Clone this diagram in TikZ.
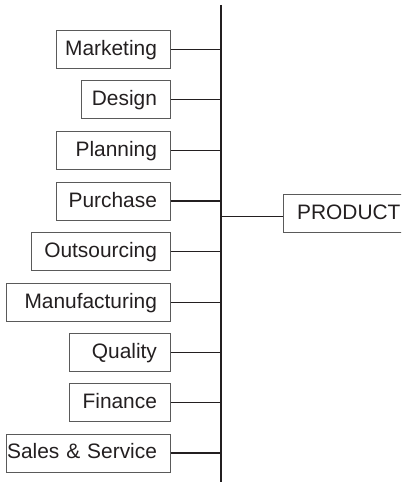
\documentclass[tikz,border=0pt]{standalone}
\usepackage{fontspec}
\setmainfont{Liberation Sans}
\usetikzlibrary{calc}
\definecolor{ink}{HTML}{231F20}
\definecolor{frame}{HTML}{5A5A5A}
\tikzset{
  dept/.style={draw=frame, line width=0.9bp, text=ink, anchor=east, inner xsep=0pt, inner ysep=0pt,
    minimum height=38bp, text height=15bp, text depth=3bp, align=right,
    font=\fontsize{20.9bp}{24bp}\selectfont},
  prodbox/.style={draw=frame, line width=0.9bp, text=ink, anchor=west, inner xsep=0pt, inner ysep=0pt,
    minimum height=38bp, text height=15bp, text depth=3bp,
    font=\fontsize{20.9bp}{24bp}\selectfont},
  link/.style={draw=ink, line width=1.3bp},
  spineline/.style={draw=ink, line width=1.8bp}
}
\begin{document}
\begin{tikzpicture}[x=1bp,y=1bp]
\useasboundingbox (0,0) rectangle (401,482);
\clip (0,0) rectangle (401,482);
\coordinate (stop) at (220.7,477);
\coordinate (sbot) at (220.7,0);
\node[dept, text width=114bp] (m1) at (170.7,432.3) {Marketing\hspace*{13.3bp}};
\node[dept, text width=88.4bp] (m2) at (170.7,382.3) {Design\hspace*{13.3bp}};
\node[dept, text width=114bp] (m3) at (170.7,331.5) {Planning\hspace*{13.3bp}};
\node[dept, text width=114bp] (m4) at (170.7,280.9) {Purchase\hspace*{13.3bp}};
\node[dept, text width=139bp] (m5) at (170.7,230.8) {Outsourcing\hspace*{13.3bp}};
\node[dept, text width=164bp] (m6) at (170.7,179.8) {Manufacturing\hspace*{13.3bp}};
\node[dept, text width=101bp] (m7) at (170.7,129.8) {Quality\hspace*{13.3bp}};
\node[dept, text width=101bp] (m8) at (170.7,79.2) {Finance\hspace*{13.3bp}};
\node[dept, text width=164bp] (m9) at (170.7,29) {Sales \& Service\hspace*{13.3bp}};
\node[prodbox] (prod) at (283.3,268.7) {\hspace*{13.4bp}PRODUCT\hspace*{40bp}};
\draw[spineline] (stop) -- (sbot);
\foreach \n in {m1,m2,m3,m4,m5,m6,m7,m8,m9}{
  \draw[link] (\n.east) -- (\n.east -| stop);
}
\coordinate (pj) at ($(prod.west)+(0,-3)$);
\draw[link] (pj) -- (pj -| stop);
\end{tikzpicture}
\end{document}
